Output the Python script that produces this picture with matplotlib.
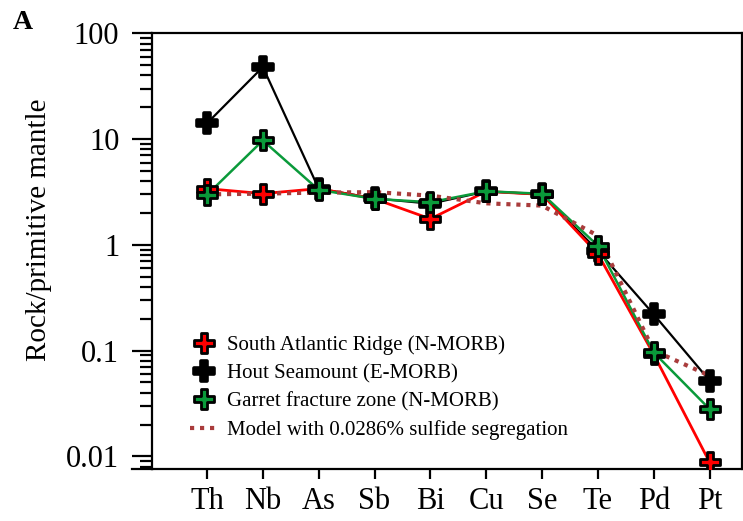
import matplotlib.pyplot as plt
import numpy as np
from matplotlib.path import Path
from matplotlib.lines import Line2D

plt.rcParams['font.family'] = 'Liberation Serif'

elements = ["Th", "Nb", "As", "Sb", "Bi", "Cu", "Se", "Te", "Pd", "Pt"]

# rock / primitive mantle ratios
south_atlantic = [3.4, 3.05, 3.4, 2.72, 1.76, 3.2, 3.0, 0.82, 0.092, 0.0088]
hout_seamount = [14.1, 48.0, 3.4, 2.75, 2.45, 3.2, 3.0, 0.88, 0.22, 0.052]
garret_zone = [2.97, 9.7, 3.31, 2.72, 2.53, 3.21, 3.04, 0.98, 0.096, 0.028]
model_sulfide = [3.0, 3.05, 3.12, 3.15, 2.92, 2.47, 2.35, 1.22, 0.10, 0.058]

RED = "#ff0000"
GREEN = "#0a9a3a"
BROWN = "#a93c3c"

# plus-shaped marker with thin arms
w = 0.26
plus_verts = [(-w, 1), (w, 1), (w, w), (1, w), (1, -w), (w, -w), (w, -1),
              (-w, -1), (-w, -w), (-1, -w), (-1, w), (-w, w), (-w, 1)]
plus = Path(plus_verts, closed=True)

fig = plt.figure(figsize=(7.43, 5.21), dpi=100)
ax = fig.add_axes([152 / 743, 1 - 469 / 521, 590 / 743, 435.7 / 521])

x = np.arange(len(elements))

ax.plot(x, hout_seamount, color="black", lw=1.6, zorder=2)
ax.plot(x, south_atlantic, color=RED, lw=2.0, zorder=2)
ax.plot(x, garret_zone, color=GREEN, lw=1.8, zorder=2)
model_line, = ax.plot(x, model_sulfide, color=BROWN, lw=3.0, zorder=3,
                      dashes=(1.0, 1.4), dash_capstyle="butt")

mk = dict(marker=plus, ms=14.6, mec="black", ls="none", zorder=5)
h_black, = ax.plot(x, hout_seamount, mfc="black", mew=2.6, **mk)
h_red, = ax.plot(x, south_atlantic, mfc=RED, mew=2.0, **mk)
h_green, = ax.plot(x, garret_zone, mfc=GREEN, mew=2.0, **mk)

ax.set_yscale("log")
ax.set_ylim(0.0076, 100)
ax.set_xlim(-0.985, 9.58)
ax.set_xticks(x)
ax.set_xticklabels(elements)
ax.set_yticks([0.01, 0.1, 1, 10, 100])
ax.set_yticklabels(["0.01", "0.1", "1", "10", "100"])

for s in ax.spines.values():
    s.set_linewidth(1.6)
ax.tick_params(axis="both", which="major", labelsize=22, width=1.6)
ax.tick_params(axis="y", which="major", length=14.5, pad=9)
ax.tick_params(axis="y", which="minor", length=8.6, width=1.6)
ax.tick_params(axis="x", which="major", length=7.2, pad=6)

# bottom spine runs on past the y axis
ax.add_line(Line2D([-20 / 590, 0], [0, 0], transform=ax.transAxes,
                   color="black", lw=1.6, clip_on=False))

ax.set_ylabel("Rock/primitive mantle", fontsize=21)
ax.yaxis.set_label_coords(-0.17, 0.55)

ax.legend([h_red, h_black, h_green, model_line],
          ["South Atlantic Ridge (N-MORB)", "Hout Seamount (E-MORB)",
           "Garret fracture zone (N-MORB)",
           "Model with 0.0286% sulfide segregation"],
          loc="upper left", bbox_to_anchor=(0.064, 0.307), frameon=False,
          fontsize=15, borderpad=0, borderaxespad=0, handlelength=1.35,
          handletextpad=0.45, labelspacing=0.42, numpoints=1)

fig.text(13 / 743, 1 - 29 / 521, "A", fontsize=20, fontweight="bold")

fig.savefig("out.png", dpi=100)
